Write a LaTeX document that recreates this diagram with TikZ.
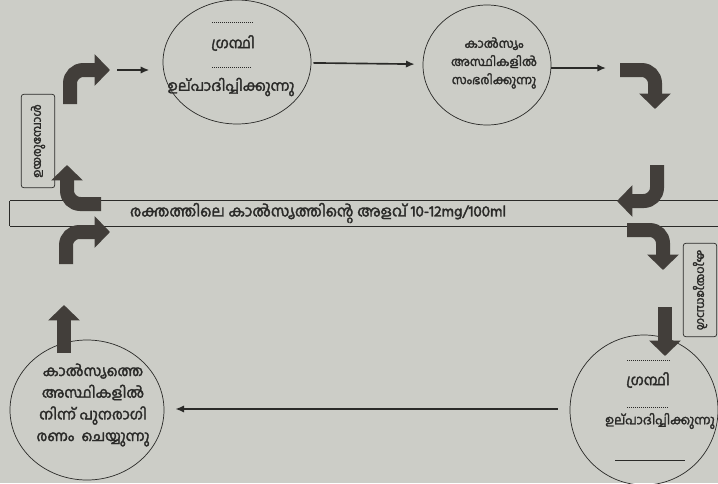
\documentclass[tikz,border=0pt]{standalone}
\usepackage{fontspec}
\newfontfamily\mlfont[Script=Malayalam, FakeBold=2.2]{Hind Kochi}
\usetikzlibrary{arrows.meta,shapes.geometric}

\definecolor{paper}{RGB}{204,205,199}
\definecolor{ink}{RGB}{42,42,40}
\definecolor{blockgray}{RGB}{66,62,58}

\begin{document}
\begin{tikzpicture}[x=0.3mm, y=-0.3mm, ink, font=\mlfont\fontsize{12.5}{15}\selectfont,
        bubble/.style={draw, ellipse, line width=0.6pt, inner sep=0pt},
        blank/.style={densely dotted, line width=0.7pt},
        blockarrow/.style={blockgray, line width=4.2mm, rounded corners=4mm, -{Triangle[length=0pt 1.1, width=0pt 2.2]}},
        tag/.style={draw, rounded corners=2pt, line width=0.6pt, minimum width=2.8cm, minimum height=1cm, inner sep=1pt,
            font=\mlfont\fontsize{10}{12}\selectfont},
        thinarrow/.style={-{Latex[length=2.6mm, width=2.2mm]}, line width=1.4pt}]

        \def\linethick{0.6pt}

        % paper
        \fill[paper] (0,0) rectangle (718,483);
        \useasboundingbox (0,0) rectangle (718,483);

        % the four circles
        \node[bubble, minimum width=4.44cm, minimum height=3.72cm] (glandA) at (237,62) {};
        \node[bubble, minimum width=3.84cm, minimum height=3.6cm] (store) at (487,65) {};
        \node[bubble, minimum width=4.44cm, minimum height=4.5cm] (glandB) at (644,410) {};
        \node[bubble, minimum width=4.62cm, minimum height=4.2cm] (release) at (87,410) {};

        \node (glandAname) at (233,43) {ഗ്രന്ഥി};
        \node (glandAmakes) at (231,87) {ഉല്പാദിപ്പിക്കുന്നു};
        \node[align=center, font=\mlfont\fontsize{10.5}{12.5}\selectfont] (storeText) at (494,63)
            {കാൽസ്യം\\[3pt]അസ്ഥികളിൽ\\[3pt]സംഭരിക്കുന്നു};
        \node (glandBname) at (648,380) {ഗ്രന്ഥി};
        \node[font=\mlfont\fontsize{10.8}{13}\selectfont] (glandBmakes) at (660,421) {ഉല്പാദിപ്പിക്കുന്നു};
        \node[align=center] (releaseText) at (93,405) {കാൽസ്യത്തെ\\[3.5pt]അസ്ഥികളിൽ\\[3.5pt]നിന്ന് പുനരാഗി\\[3.5pt]രണം\enspace ചെയ്യുന്നു};

        % blanks to fill
        \draw[blank] (212,22) -- (252,22);
        \draw[blank] (212,67) -- (250,67);
        \draw[blank] (627,360) -- (670,360);
        \draw[blank] (627,407) -- (668,407);
        \draw[line width=\linethick] (615,460) -- (685,460);

        % band with the level
        \node[minimum width=21.24cm, minimum height=0.75cm, inner sep=0pt] (band) at (364,213.5) {};
        \draw[line width=0.5pt] (band.north west) -- (band.north east);
        \draw[line width=1.1pt] (band.south west) -- (band.south east);
        \draw[line width=0.5pt] (band.north west) -- (band.south west);
        \node[font=\mlfont\fontsize{13}{15}\selectfont] (level) at (318,213) {രക്തത്തിലെ കാൽസ്യത്തിന്റെ അളവ് 10-12mg/100ml};

        % side tags
        \node[tag, rotate=90] (riseTag) at (38,141) {ഉയരുമ്പോൾ};
        \node[tag, rotate=-90] (fallTag) at (700,290) {കുറയുമ്പോൾ};

        % thin arrows
        \coordinate (intoA) at (117,70);
        \coordinate (outStore) at (606,68);
        \draw[thinarrow, shorten >=4mm] (intoA) -- (glandA.west |- intoA);
        \draw[thinarrow, shorten >=2.4mm, shorten <=0.6mm] (glandA) -- (store);
        \draw[thinarrow] (store.east |- outStore) -- (outStore);
        \draw[thinarrow, shorten <=3.6mm, shorten >=3.3mm] (glandB.west |- 0,409) -- (release.east |- 0,409);

        % thick bent arrows
        \draw[blockarrow] (70,104) |- (110,70);
        \draw[blockarrow] (101,204) -| (67,165);
        \draw[blockarrow] (66,264) |- (110,232);
        \draw[blockarrow] (620,70) -| (655,109);
        \draw[blockarrow] (657,165) |- (617,201);
        \draw[blockarrow] (627,230) -| (663,270);
        \draw[blockarrow, rounded corners=0pt] (665,307) -- (665,356);
        \draw[blockarrow, rounded corners=0pt] (64,353) -- (64,305);

\end{tikzpicture}
\end{document}
